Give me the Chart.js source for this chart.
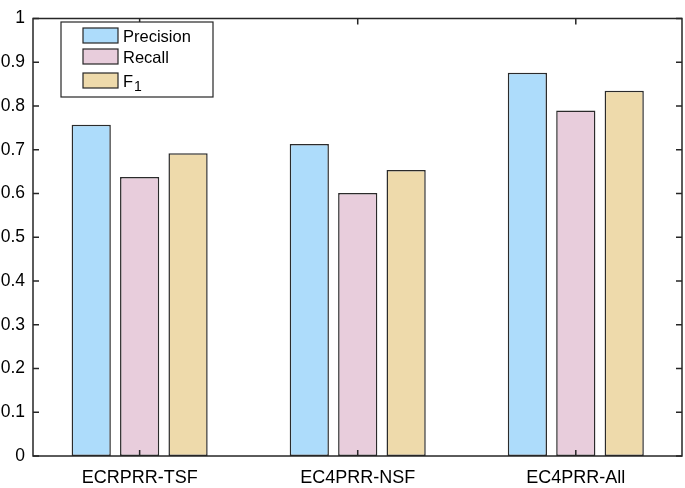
<!DOCTYPE html>
<html>
<head>
<meta charset="utf-8">
<script src="https://cdn.jsdelivr.net/npm/chart.js@4"></script>
<style>
  html, body { margin: 0; padding: 0; background: #fff; }
  #wrap { width: 685px; height: 488px; }
</style>
</head>
<body>
<div id="wrap"><canvas id="chart" width="685" height="488"></canvas></div>
<script>
        // Chart data
        const categories = ['ECRPRR-TSF', 'EC4PRR-NSF', 'EC4PRR-All'];
        const precision = [0.757, 0.713, 0.876];
        const recall = [0.638, 0.601, 0.790];
        const f1 = [0.692, 0.654, 0.835];
        const yTicks = [0, 0.1, 0.2, 0.3, 0.4, 0.5, 0.6, 0.7, 0.8, 0.9, 1];
        const xPos = [1, 2, 3];

        const FONT = 'Liberation Sans, Arial, sans-serif';
        const AXIS = '#262626';

        const points = vals => vals.map((v, i) => ({ x: xPos[i], y: v }));

        // Box, inward ticks and legend (MATLAB style)
        const frame = {
            id: 'frame',
            afterDatasetsDraw(chart) {
                const ctx = chart.ctx;
                const a = chart.chartArea;
                const x = chart.scales.x, y = chart.scales.y;
                ctx.save();
                ctx.strokeStyle = AXIS;
                ctx.lineWidth = 1.5;
                ctx.strokeRect(a.left, a.top, a.right - a.left, a.bottom - a.top);
                ctx.beginPath();
                yTicks.forEach(v => {
                    const py = y.getPixelForValue(v);
                    ctx.moveTo(a.left, py); ctx.lineTo(a.left + 6, py);
                    ctx.moveTo(a.right, py); ctx.lineTo(a.right - 6, py);
                });
                xPos.forEach(v => {
                    const px = x.getPixelForValue(v);
                    ctx.moveTo(px, a.top); ctx.lineTo(px, a.top + 6);
                    ctx.moveTo(px, a.bottom); ctx.lineTo(px, a.bottom - 6);
                });
                ctx.stroke();

                // legend
                ctx.fillStyle = '#fff';
                ctx.fillRect(61, 22, 152, 75);
                ctx.lineWidth = 1.2;
                ctx.strokeRect(61, 22, 152, 75);
                const rows = [28, 49, 73];
                const baselines = [42, 63, 86.5];
                chart.data.datasets.forEach((ds, i) => {
                    ctx.fillStyle = ds.backgroundColor;
                    ctx.fillRect(83, rows[i], 35, 15);
                    ctx.lineWidth = 1.2;
                    ctx.strokeRect(83, rows[i], 35, 15);
                    ctx.fillStyle = '#000';
                    ctx.textBaseline = 'alphabetic';
                    ctx.font = '16.5px ' + FONT;
                    if (ds.label === 'F1') {
                        ctx.fillText('F', 123, baselines[i]);
                        ctx.font = '14px ' + FONT;
                        ctx.fillText('1', 134, baselines[i] + 4);
                    } else {
                        ctx.fillText(ds.label, 123, baselines[i]);
                    }
                });
                ctx.restore();
            }
        };

        const barStyle = { borderColor: '#2b2b2b', borderWidth: 1.5, borderSkipped: false,
                           barPercentage: 0.81, categoryPercentage: 0.666 };

        new Chart(document.getElementById('chart'), {
            type: 'bar',
            data: {
                datasets: [
                    { label: 'Precision', data: points(precision), backgroundColor: '#addcfb', ...barStyle },
                    { label: 'Recall', data: points(recall), backgroundColor: '#e8cddc', ...barStyle },
                    { label: 'F1', data: points(f1), backgroundColor: '#eedaab', ...barStyle }
                ]
            },
            options: {
                responsive: false,
                animation: false,
                layout: { padding: { top: 10, right: 3, left: 0, bottom: 0 } },
                plugins: { legend: { display: false }, tooltip: { enabled: false } },
                scales: {
                    x: {
                        type: 'linear',
                        offset: false,
                        min: 0.511, max: 3.487,
                        afterBuildTicks(s) { s.ticks = xPos.map(v => ({ value: v })); },
                        grid: { display: false, drawTicks: false },
                        border: { display: false },
                        ticks: { color: '#000', font: { family: FONT, size: 18 }, padding: 11,
                                 maxRotation: 0, autoSkip: false,
                                 callback: v => categories[xPos.indexOf(v)] },
                        afterFit(s) { s.height = 32; }
                    },
                    y: {
                        min: 0, max: 1,
                        afterBuildTicks(s) { s.ticks = yTicks.map(v => ({ value: v })); },
                        grid: { display: false, drawTicks: false },
                        border: { display: false },
                        ticks: { color: '#000', font: { family: FONT, size: 17.5 }, padding: 8,
                                 callback: v => String(Math.round(v * 10) / 10) },
                        afterFit(s) { s.width = 33; }
                    }
                }
            },
            plugins: [frame]
        });
</script>
</body>
</html>
